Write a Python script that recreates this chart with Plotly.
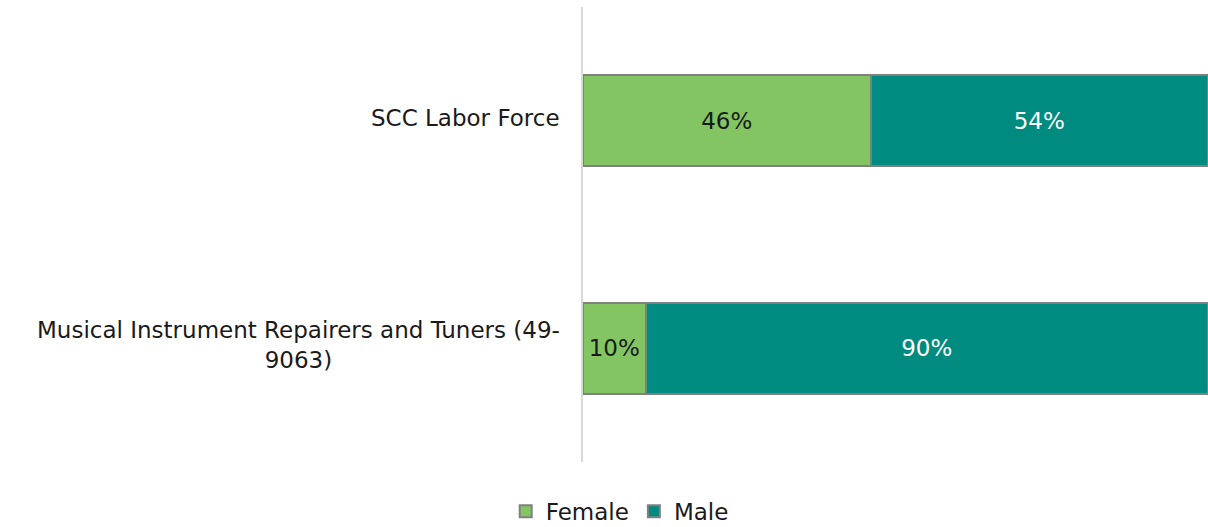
import plotly.graph_objects as go

categories = ["SCC Labor Force", "Musical Instrument Repairers and Tuners (49-<br>9063)"]
female = [0.46, 0.10]
male = [0.54, 0.90]
female_labels = ["46%", "10%"]
male_labels = ["54%", "90%"]

FONT = "DejaVu Sans"
FS = 23
fig = go.Figure()
fig.add_trace(go.Bar(
    y=categories, x=female, orientation="h", name="Female",
    marker=dict(color="#84C563", line=dict(color="#808080", width=2)),
    text=female_labels, textposition="inside", insidetextanchor="middle",
    textfont=dict(color="#1a1a1a", size=FS, family=FONT), width=0.4,
    hoverinfo="skip",
))
fig.add_trace(go.Bar(
    y=categories, x=male, orientation="h", name="Male",
    marker=dict(color="#008B81", line=dict(color="#808080", width=2)),
    text=male_labels, textposition="inside", insidetextanchor="middle",
    textfont=dict(color="#ffffff", size=FS, family=FONT), width=0.4,
    hoverinfo="skip",
))

for c in categories:
    fig.add_annotation(
        x=0, xref="paper", y=c, yref="y", text=c, showarrow=False,
        xanchor="right", xshift=-21, yshift=3, align="center",
        font=dict(size=FS, color="#1a1a1a", family=FONT),
    )

fig.update_layout(
    barmode="stack",
    width=1208, height=527,
    margin=dict(l=583, r=0, t=7, b=65),
    plot_bgcolor="white", paper_bgcolor="white",
    font=dict(family=FONT, size=FS, color="#1a1a1a"),
    showlegend=True,
    legend=dict(orientation="h", xref="container", yref="container",
                x=0.513, xanchor="center", y=0.03, yanchor="middle",
                font=dict(size=FS, family=FONT), traceorder="normal",
                itemwidth=30),
    uniformtext=dict(minsize=10, mode="show"),
)
fig.update_xaxes(range=[0, 1], showgrid=False, showticklabels=False, zeroline=False,
                 showline=False, fixedrange=True)
fig.update_yaxes(categoryorder="array", categoryarray=categories, autorange="reversed",
                 showticklabels=False, showline=True, linecolor="#d9d9d9", linewidth=2,
                 showgrid=False, zeroline=False, ticks="", fixedrange=True)

fig.write_html("out.html", config={"displayModeBar": False},
               post_script="document.body.style.margin='0';document.body.style.overflow='hidden';")
